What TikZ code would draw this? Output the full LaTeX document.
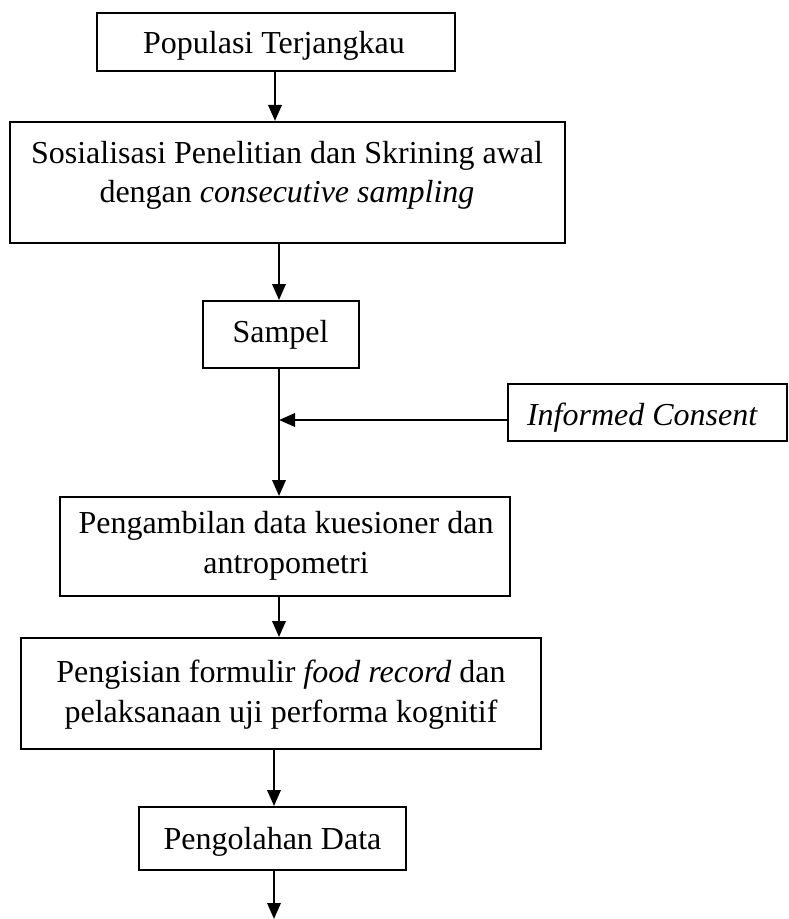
\documentclass[tikz,border=0pt]{standalone}
\usepackage{fontspec}
\setmainfont{Liberation Serif}
\usetikzlibrary{arrows.meta}
\begin{document}
\begin{tikzpicture}[x=0.375pt,y=-0.375pt,
  box/.style={draw, line width=0.75pt, inner sep=0pt, minimum width=#1},
  txt/.style={anchor=base, inner sep=0pt, font=\fontsize{12pt}{14pt}\selectfont},
  flow/.style={-{Triangle[width=5pt,length=6pt]}, line width=0.9pt}]
\useasboundingbox (0,0) rectangle (789,919);
% boxes (centre, width, height in px)
\node[box=134.25pt, minimum height=21.75pt] (b1) at (276,42) {};
\node[box=208.1pt, minimum height=45.4pt] (b2) at (287.5,182.5) {};
\node[box=58.5pt, minimum height=25.1pt] (b3) at (281,334.5) {};
\node[box=104.6pt, minimum height=21.4pt] (b4) at (647.5,412.5) {};
\node[box=168.75pt, minimum height=37.1pt] (b5) at (285,546.5) {};
\node[box=195pt, minimum height=41.6pt] (b6) at (281,693.5) {};
\node[box=100.1pt, minimum height=23.6pt] (b7) at (272.5,838.5) {};
% texts
\node[txt] (t1) at (274,53) {Populasi Terjangkau};
\node[txt] (t2a) at (287,163) {Sosialisasi Penelitian dan Skrining awal};
\node[txt] (t2b) at (287,202) {dengan \textit{consecutive sampling}};
\node[txt] (t3) at (280.5,342) {Sampel};
\node[txt] (t4) at (642.5,425) {\textit{Informed Consent}};
\node[txt] (t5a) at (286,533) {Pengambilan data kuesioner dan};
\node[txt] (t5b) at (286,573) {antropometri};
\node[txt] (t6a) at (281,682) {Pengisian formulir \textit{food record} dan};
\node[txt] (t6b) at (281,722) {pelaksanaan uji performa kognitif};
\node[txt] (t7) at (272.5,849) {Pengolahan Data};
% arrow axes
\coordinate (x1) at (275,0);
\coordinate (x2) at (279,0);
\coordinate (x3) at (279,0);
\coordinate (x4) at (279,0);
\coordinate (x5) at (274,0);
\coordinate (j) at (279,420);
\coordinate (end) at (274,919);
\draw[flow] (b1.south -| x1) -- (b2.north -| x1);
\draw[flow] (b2.south -| x2) -- (b3.north -| x2);
\draw[flow] (b3.south -| x3) -- (b5.north -| x3);
\draw[flow] (b4.west |- j) -- (j);
\draw[flow] (b5.south -| x4) -- (b6.north -| x4);
\draw[flow] (b6.south -| x5) -- (b7.north -| x5);
\draw[flow] (b7.south -| x5) -- (end);
\end{tikzpicture}
\end{document}
